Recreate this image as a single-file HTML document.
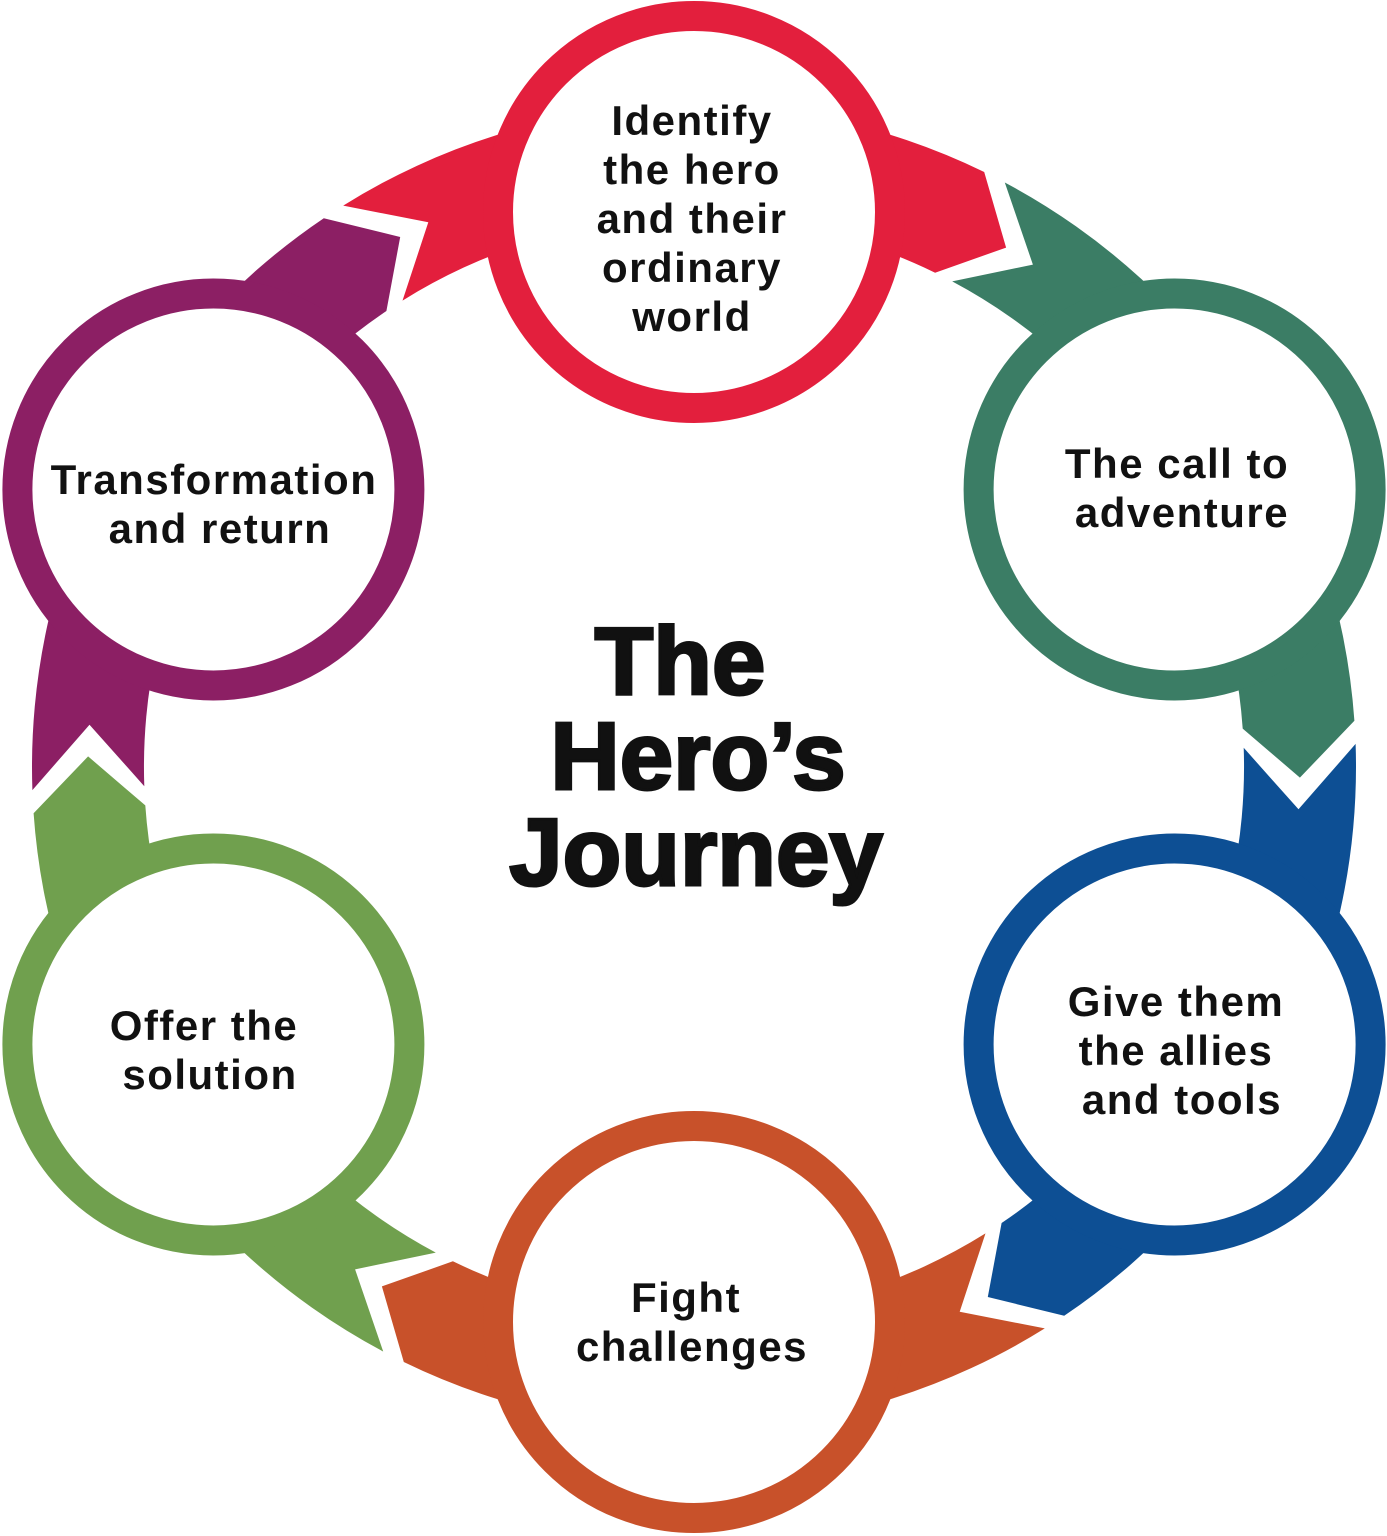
<!DOCTYPE html>
<html><head><meta charset="utf-8">
<style>
html,body{margin:0;padding:0;background:#fff;}
svg{display:block;}
text{font-family:"Liberation Sans",sans-serif;font-weight:bold;text-anchor:middle;fill:#111;}
</style></head>
<body>
<svg id="s" width="1387" height="1536" viewBox="0 0 1387 1536" xmlns="http://www.w3.org/2000/svg">
<g id="bands"></g>
<g id="circles"></g>
<g font-size="42" letter-spacing="1.5">
<text x="692" y="135">Identify</text>
<text x="692" y="184">the hero</text>
<text x="692" y="233">and their</text>
<text x="692" y="282">ordinary</text>
<text x="692" y="331">world</text>
<text x="1177" y="478">The call to</text>
<text x="1182" y="527">adventure</text>
<text x="1176" y="1016">Give them</text>
<text x="1176" y="1065">the allies</text>
<text x="1182" y="1114">and tools</text>
<text x="686" y="1312">Fight</text>
<text x="692" y="1361">challenges</text>
<text x="204" y="1040">Offer the</text>
<text x="210" y="1089">solution</text>
<text x="214" y="494">Transformation</text>
<text x="220" y="543">and return</text>
</g>
<g font-size="96" font-weight="900" style="font-weight:900" stroke="#111" stroke-width="3">
<text x="680" y="694">The</text>
<text x="698" y="789">Hero’s</text>
<text x="696" y="885">Journey</text>
</g>
</svg>
<script>
(function(){
var C=[694,767],Ri=550,Ro=662,Rm=606,D=555;
var items=[[-90,"#e31f3d"],[-30,"#3b7d65"],[30,"#0d4f94"],[90,"#c8512a"],[150,"#70a04e"],[210,"#8c1f64"]];
function P(r,a){a=a*Math.PI/180;return (C[0]+r*Math.cos(a)).toFixed(1)+","+(C[1]+r*Math.sin(a)).toFixed(1);}
var b="",c="";
items.forEach(function(it){
 var a=it[0],col=it[1];
 var d="M"+P(Ro,a-32)+" A"+Ro+","+Ro+" 0 0 1 "+P(Ro,a+26)+" L"+P(Rm,a+31)+" L"+P(Ri,a+26)+" A"+Ri+","+Ri+" 0 0 0 "+P(Ri,a-32)+" L"+P(Rm,a-26)+" Z";
 b+='<path d="'+d+'" fill="'+col+'"/>';
 var r=a*Math.PI/180,x=C[0]+D*Math.cos(r),y=C[1]+D*Math.sin(r);
 c+='<circle cx="'+x.toFixed(1)+'" cy="'+y.toFixed(1)+'" r="196" fill="#fff" stroke="'+col+'" stroke-width="30"/>';
});
document.getElementById("bands").innerHTML=b;
document.getElementById("circles").innerHTML=c;
})();
</script>
</body></html>
